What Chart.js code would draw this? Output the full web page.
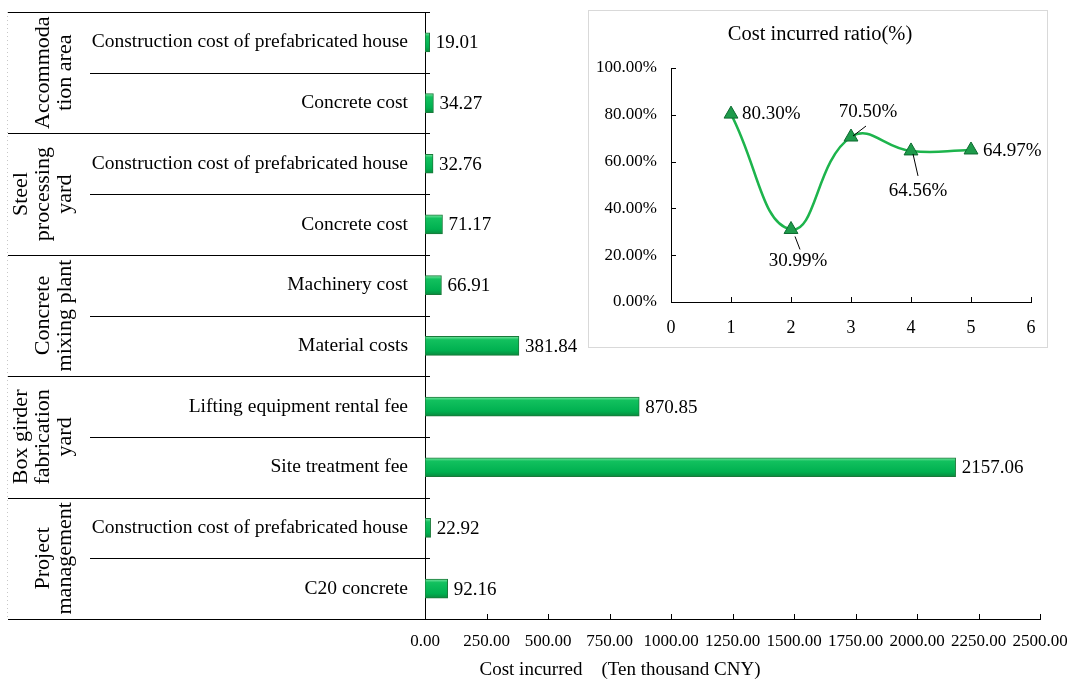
<!DOCTYPE html>
<html>
<head>
<meta charset="utf-8">
<script src="https://cdn.jsdelivr.net/npm/chart.js@4/dist/chart.umd.min.js"></script>
<style>
body { margin: 0; background: #fff; }
#wrap { position: relative; width: 1067px; height: 684px; }
#inset { position: absolute; left: 588px; top: 10px; width: 458px; height: 336px; border: 1px solid #d9d9d9; background: #fff; }
canvas { display: block; }
</style>
</head>
<body>
<div id="wrap">
  <canvas id="main" width="1067" height="684"></canvas>
  <div id="inset"><canvas id="ratio" width="458" height="336"></canvas></div>
</div>
<script>
'use strict';
// data
var itemNames = ['Construction cost of prefabricated house', 'Concrete cost',
  'Construction cost of prefabricated house', 'Concrete cost',
  'Machinery cost', 'Material costs',
  'Lifting equipment rental fee', 'Site treatment fee',
  'Construction cost of prefabricated house', 'C20 concrete'];
var itemCosts = [19.01, 34.27, 32.76, 71.17, 66.91, 381.84, 870.85, 2157.06, 22.92, 92.16];
var groupNames = [['Accommoda', 'tion area'], ['Steel', 'processing', 'yard'],
  ['Concrete', 'mixing plant'], ['Box girder', 'fabrication', 'yard'], ['Project', 'management']];
var groupSizes = [2, 2, 2, 2, 2];
var costTicks = [0, 250, 500, 750, 1000, 1250, 1500, 1750, 2000, 2250, 2500];
var costTitle = 'Cost incurred    (Ten thousand CNY)';

var ratioTitle = 'Cost incurred ratio(%)';
var ratioX = [1, 2, 3, 4, 5];
var ratioValues = [80.30, 30.99, 70.50, 64.56, 64.97];
var ratioXTicks = [0, 1, 2, 3, 4, 5, 6];
var ratioYTicks = [0, 20, 40, 60, 80, 100];

var serif = "'Liberation Serif', 'Times New Roman', serif";
Chart.defaults.font.family = serif;
Chart.defaults.color = '#000';

// grouped category lines, labels, inside ticks, value labels
var mainDecor = {
  id: 'mainDecor',
  afterDraw: function (chart) {
    var ctx = chart.ctx;
    var ys = chart.scales.y;
    var xs = chart.scales.x;
    ctx.save();
    ctx.strokeStyle = '#000';
    ctx.lineWidth = 1;
    // boundaries
    var groupEdges = [0];
    var acc = 0;
    for (var g = 0; g < groupSizes.length; g++) {
      acc += groupSizes[g];
      groupEdges.push(acc);
    }
    for (var i = 0; i <= itemNames.length; i++) {
      var py = Math.round(ys.getPixelForValue(i - 0.5)) + 0.5;
      var startX = groupEdges.indexOf(i) >= 0 ? 8 : 90;
      ctx.beginPath();
      ctx.moveTo(startX, py);
      ctx.lineTo(xs.left + 5, py);
      ctx.stroke();
    }
    // faint left border
    ctx.strokeStyle = '#c8c8c8';
    ctx.setLineDash([1, 3]);
    ctx.beginPath();
    ctx.moveTo(7.5, ys.getPixelForValue(-0.5));
    ctx.lineTo(7.5, ys.getPixelForValue(itemNames.length - 0.5));
    ctx.stroke();
    ctx.setLineDash([]);
    // group labels
    ctx.fillStyle = '#000';
    ctx.font = '22px ' + serif;
    ctx.textAlign = 'center';
    ctx.textBaseline = 'middle';
    for (g = 0; g < groupNames.length; g++) {
      var cy = (ys.getPixelForValue(groupEdges[g] - 0.5) + ys.getPixelForValue(groupEdges[g + 1] - 0.5)) / 2;
      var lines = groupNames[g];
      for (var k = 0; k < lines.length; k++) {
        var lx = 65 - (lines.length - 1 - k) * 22;
        ctx.save();
        ctx.translate(lx, cy);
        ctx.rotate(-Math.PI / 2);
        ctx.fillText(lines[k], 0, 0);
        ctx.restore();
      }
    }
    // inside ticks on x axis
    ctx.strokeStyle = '#000';
    for (i = 0; i < costTicks.length; i++) {
      var px = Math.round(xs.getPixelForValue(costTicks[i])) + 0.5;
      ctx.beginPath();
      ctx.moveTo(px, xs.top);
      ctx.lineTo(px, xs.top - 5);
      ctx.stroke();
    }
    // value labels
    var meta = chart.getDatasetMeta(0);
    ctx.font = '19px ' + serif;
    ctx.textAlign = 'left';
    for (i = 0; i < meta.data.length; i++) {
      var el = meta.data[i];
      ctx.fillText(itemCosts[i].toFixed(2), el.x + 6, el.y + 1);
    }
    // axis title
    ctx.textAlign = 'center';
    ctx.fillText(costTitle, 620, 670);
    ctx.restore();
  }
};

function barFill(c) {
  var ys = c.chart.scales.y;
  if (!ys || c.type !== 'data') return '#00b050';
  var cy = ys.getPixelForValue(c.dataIndex);
  if (!isFinite(cy)) return '#00b050';
  var grad = c.chart.ctx.createLinearGradient(0, cy - 9.5, 0, cy + 9.5);
  grad.addColorStop(0, '#7ce6a4');
  grad.addColorStop(0.18, '#12c15e');
  grad.addColorStop(0.75, '#00b050');
  grad.addColorStop(1, '#0a8a3e');
  return grad;
}

new Chart(document.getElementById('main'), {
  type: 'bar',
  data: {
    labels: itemNames,
    datasets: [{
      data: itemCosts,
      barThickness: 19,
      borderWidth: 1,
      borderColor: '#1a7a3a',
      borderSkipped: false,
      backgroundColor: barFill
    }]
  },
  options: {
    responsive: false,
    animation: false,
    indexAxis: 'y',
    layout: { padding: { top: 12, right: 27, bottom: 0, left: 0 } },
    plugins: { legend: { display: false }, tooltip: { enabled: false } },
    scales: {
      x: {
        min: 0,
        max: 2500,
        afterBuildTicks: function (s) { s.ticks = costTicks.map(function (v) { return { value: v }; }); },
        afterFit: function (s) { s.height = 65; s.paddingLeft = 0; s.paddingRight = 0; },
        ticks: { autoSkip: false, maxRotation: 0, padding: 12, font: { size: 17 },
          callback: function (v) { return Number(v).toFixed(2); } },
        grid: { display: false, drawTicks: false },
        border: { display: true, color: '#000' }
      },
      y: {
        afterFit: function (s) { s.width = 425; s.paddingTop = 0; s.paddingBottom = 0; },
        ticks: { autoSkip: false, padding: 17, font: { size: 19.5 } },
        grid: { display: false, drawTicks: false },
        border: { display: true, color: '#000' }
      }
    }
  },
  plugins: [mainDecor]
});

// inset chart labels
var ratioDecor = {
  id: 'ratioDecor',
  afterDraw: function (chart) {
    var ctx = chart.ctx;
    var xs = chart.scales.x;
    var ys = chart.scales.y;
    ctx.save();
    ctx.strokeStyle = '#000';
    ctx.lineWidth = 1;
    var i, p;
    for (i = 0; i < ratioYTicks.length; i++) {
      p = Math.round(ys.getPixelForValue(ratioYTicks[i])) + 0.5;
      ctx.beginPath(); ctx.moveTo(xs.left, p); ctx.lineTo(xs.left + 5, p); ctx.stroke();
    }
    for (i = 0; i < ratioXTicks.length; i++) {
      p = Math.round(xs.getPixelForValue(ratioXTicks[i])) + 0.5;
      ctx.beginPath(); ctx.moveTo(p, ys.bottom); ctx.lineTo(p, ys.bottom - 5); ctx.stroke();
    }
    ctx.fillStyle = '#000';
    ctx.font = '20.5px ' + serif;
    ctx.textBaseline = 'middle';
    ctx.textAlign = 'center';
    ctx.fillText(ratioTitle, 231, 24);
    // label offsets from each point
    var spots = [
      { dx: 11, dy: 0, align: 'left' },
      { dx: 7, dy: 32, align: 'center', lead: [4, 7, 9, 20] },
      { dx: 17, dy: -25, align: 'center', lead: [2, -1, 15, -11] },
      { dx: 7, dy: 40, align: 'center', lead: [2, 3, 7, 25] },
      { dx: 12, dy: 1, align: 'left' }
    ];
    ctx.font = '19px ' + serif;
    var meta = chart.getDatasetMeta(0);
    for (i = 0; i < meta.data.length; i++) {
      var el = meta.data[i];
      var s = spots[i];
      if (s.lead) {
        ctx.beginPath();
        ctx.moveTo(el.x + s.lead[0], el.y + s.lead[1]);
        ctx.lineTo(el.x + s.lead[2], el.y + s.lead[3]);
        ctx.stroke();
      }
      ctx.textAlign = s.align;
      ctx.fillText(ratioValues[i].toFixed(2) + '%', el.x + s.dx, el.y + s.dy);
    }
    ctx.restore();
  }
};

new Chart(document.getElementById('ratio'), {
  type: 'line',
  data: {
    datasets: [{
      data: ratioX.map(function (x, i) { return { x: x, y: ratioValues[i] }; }),
      borderColor: '#1db44c',
      borderWidth: 2.5,
      tension: 0.45,
      pointStyle: 'triangle',
      pointRadius: 8,
      pointBackgroundColor: '#1e9b4b',
      pointBorderColor: '#0d6a30',
      pointBorderWidth: 1
    }]
  },
  options: {
    responsive: false,
    animation: false,
    layout: { padding: { top: 57, right: 16, bottom: 0, left: 0 } },
    plugins: { legend: { display: false }, tooltip: { enabled: false } },
    scales: {
      x: {
        type: 'linear',
        min: 0,
        max: 6,
        afterBuildTicks: function (s) { s.ticks = ratioXTicks.map(function (v) { return { value: v }; }); },
        afterFit: function (s) { s.height = 45; s.paddingLeft = 0; s.paddingRight = 0; },
        ticks: { padding: 15, font: { size: 18 } },
        grid: { display: false, drawTicks: false },
        border: { display: true, color: '#000' }
      },
      y: {
        min: 0,
        max: 100,
        afterBuildTicks: function (s) { s.ticks = ratioYTicks.map(function (v) { return { value: v }; }); },
        afterFit: function (s) { s.width = 82; s.paddingTop = 0; s.paddingBottom = 0; },
        ticks: { padding: 14, font: { size: 17 },
          callback: function (v) { return Number(v).toFixed(2) + '%'; } },
        grid: { display: false, drawTicks: false },
        border: { display: true, color: '#000' }
      }
    }
  },
  plugins: [ratioDecor]
});
</script>
</body>
</html>
